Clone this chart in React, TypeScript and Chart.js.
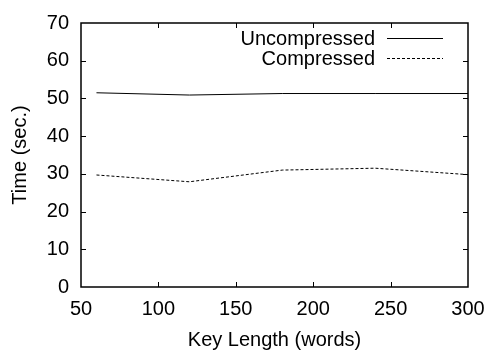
import React, { useEffect, useRef } from "react";
import { Chart, registerables } from "chart.js";

Chart.register(...registerables);

const keyLengths = [60, 120, 180, 240, 300];
const uncompressed = [51.5, 50.9, 51.3, 51.3, 51.3];
const compressed = [29.7, 27.9, 31.0, 31.5, 29.8];
const seriesNames = ["Uncompressed", "Compressed"];
const xTitle = "Key Length (words)";
const yTitle = "Time (sec.)";

const FONT = "'Liberation Sans', Arial, sans-serif";

const framePlugin = {
  id: "frame",
  afterDraw(chart: any) {
    const ctx = chart.ctx;
    const { left, right, top, bottom } = chart.chartArea;
    const xs = chart.scales.x;
    const ys = chart.scales.y;
    ctx.save();
    ctx.strokeStyle = "#000";
    ctx.lineWidth = 1;
    const tl = 5;
    ctx.beginPath();
    xs.ticks.forEach((t: any) => {
      const px = Math.round(xs.getPixelForValue(t.value)) + 0.5;
      if (px <= left + 1 || px >= right - 1) return;
      ctx.moveTo(px, bottom);
      ctx.lineTo(px, bottom - tl);
      ctx.moveTo(px, top);
      ctx.lineTo(px, top + tl);
    });
    ys.ticks.forEach((t: any) => {
      const py = Math.round(ys.getPixelForValue(t.value)) + 0.5;
      if (py <= top + 1 || py >= bottom - 1) return;
      ctx.moveTo(left, py);
      ctx.lineTo(left + tl, py);
      ctx.moveTo(right, py);
      ctx.lineTo(right - tl, py);
    });
    ctx.stroke();
    ctx.lineWidth = 1.5;
    ctx.strokeRect(left, top, right - left, bottom - top);

    // legend
    ctx.font = `20px ${FONT}`;
    ctx.fillStyle = "#000";
    ctx.textAlign = "right";
    ctx.textBaseline = "middle";
    const textRight = right - 93;
    const lineStart = right - 81;
    const lineEnd = right - 25;
    const rows = [top + 15, top + 35];
    chart.data.datasets.forEach((ds: any, i: number) => {
      const y = rows[i];
      ctx.fillText(ds.label, textRight, y + 1);
      ctx.beginPath();
      ctx.lineWidth = 1;
      ctx.strokeStyle = ds.borderColor;
      ctx.setLineDash(ds.borderDash || []);
      ctx.moveTo(lineStart, Math.round(y) + 0.5);
      ctx.lineTo(lineEnd, Math.round(y) + 0.5);
      ctx.stroke();
      ctx.setLineDash([]);
    });
    ctx.restore();
  },
};

export default function App() {
  const ref = useRef<HTMLCanvasElement>(null);
  useEffect(() => {
    document.body.style.margin = "0";
    const chart = new Chart(ref.current!, {
      type: "line",
      data: {
        datasets: [
          {
            label: seriesNames[0],
            data: keyLengths.map((x, i) => ({ x, y: uncompressed[i] })),
            borderColor: "#000",
            borderWidth: 1,
            pointRadius: 0,
            tension: 0,
          },
          {
            label: seriesNames[1],
            data: keyLengths.map((x, i) => ({ x, y: compressed[i] })),
            borderColor: "#000",
            borderWidth: 1,
            borderDash: [3, 2],
            pointRadius: 0,
            tension: 0,
          },
        ],
      },
      options: {
        animation: false,
        responsive: false,
        maintainAspectRatio: false,
        layout: { padding: { top: 23, right: 18, left: 0, bottom: 0 } },
        plugins: { legend: { display: false }, tooltip: { enabled: false } },
        scales: {
          x: {
            type: "linear",
            min: 50,
            max: 300,
            ticks: {
              stepSize: 50,
              color: "#000",
              font: { family: FONT, size: 20 },
              padding: 10,
              maxRotation: 0,
            },
            grid: { display: false, drawTicks: false },
            border: { display: false },
            title: {
              display: true,
              text: xTitle,
              color: "#000",
              font: { family: FONT, size: 20, lineHeight: 1 },
              padding: { top: 8, bottom: 0 },
            },
            afterFit(scale: any) {
              scale.height = 63;
              scale.paddingLeft = 0;
              scale.paddingRight = 0;
            },
          },
          y: {
            min: 0,
            max: 70,
            ticks: {
              stepSize: 10,
              color: "#000",
              font: { family: FONT, size: 20 },
              padding: 12,
            },
            grid: { display: false, drawTicks: false },
            border: { display: false },
            title: {
              display: true,
              text: yTitle,
              color: "#000",
              font: { family: FONT, size: 20, lineHeight: 1 },
              padding: { top: 10, bottom: 0 },
            },
            afterFit(scale: any) {
              scale.width = 81;
              scale.paddingTop = 0;
              scale.paddingBottom = 0;
            },
          },
        },
      },
      plugins: [framePlugin],
    });
    return () => chart.destroy();
  }, []);
  return <canvas ref={ref} width={486} height={350} style={{ display: "block" }} />;
}
